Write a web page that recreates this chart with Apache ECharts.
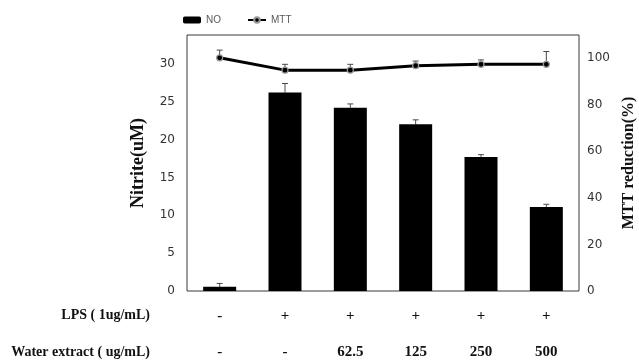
<!DOCTYPE html>
<html>
<head>
<meta charset="utf-8">
<script src="https://cdn.jsdelivr.net/npm/echarts@6/dist/echarts.min.js"></script>
<style>html,body{margin:0;padding:0;background:#fff}#c{width:639px;height:364px}</style>
</head>
<body>
<div id="c"></div>
<script>
var categories = ['g1', 'g2', 'g3', 'g4', 'g5', 'g6'];
var lpsLabels = ['-', '+', '+', '+', '+', '+'];
var extractLabels = ['-', '-', '62.5', '125', '250', '500'];
var noValues = [0.55, 26.2, 24.2, 22.0, 17.7, 11.1];
var noErrors = [0.45, 1.2, 0.5, 0.6, 0.3, 0.35];
var mttValues = [100.2, 94.9, 94.9, 96.8, 97.4, 97.4];
var mttErrors = [3.3, 2.5, 2.5, 2.0, 1.9, 5.5];

function errorSeries(name, vals, errs, axisIdx) {
  return {
    type: 'custom',
    name: name,
    yAxisIndex: axisIdx,
    z: 1,
    data: vals.map(function (v, i) { return [i, v, v + errs[i]]; }),
    renderItem: function (params, api) {
      var lo = api.coord([api.value(0), api.value(1)]);
      var hi = api.coord([api.value(0), api.value(2)]);
      var style = { stroke: '#4a4a4a', lineWidth: 1 };
      return {
        type: 'group',
        children: [
          { type: 'line', shape: { x1: lo[0], y1: lo[1], x2: hi[0], y2: hi[1] }, style: style },
          { type: 'line', shape: { x1: hi[0] - 3, y1: hi[1], x2: hi[0] + 3, y2: hi[1] }, style: style }
        ]
      };
    }
  };
}

var chart = echarts.init(document.getElementById('c'));
chart.setOption({
  animation: false,
  backgroundColor: '#fff',
  legend: {
    data: ['NO', 'MTT'],
    left: 178,
    top: 10,
    itemGap: 26,
    itemWidth: 18,
    itemHeight: 7,
    textStyle: { color: '#595959', fontSize: 10, fontFamily: 'Liberation Sans' }
  },
  grid: { left: 187, right: 60, top: 35, bottom: 73, show: true, borderColor: '#3a3a3a', borderWidth: 1, containLabel: false, outerBoundsMode: 'none' },
  xAxis: {
    type: 'category',
    data: categories,
    axisLine: { show: false },
    axisTick: { show: false },
    axisLabel: {
      margin: 7,
      interval: 0,
      formatter: function (v, i) { return lpsLabels[i] + '\n' + extractLabels[i]; },
      lineHeight: 36,
      fontSize: 15,
      fontWeight: 'bold',
      color: '#111',
      fontFamily: 'Liberation Serif'
    }
  },
  yAxis: [
    {
      type: 'value', min: 0, max: 33.8, interval: 5,
      name: 'Nitrite(uM)', nameLocation: 'middle', nameGap: 40, nameRotate: 90,
      nameTextStyle: { fontSize: 18, fontWeight: 'bold', color: '#111', fontFamily: 'Liberation Serif' },
      axisLine: { show: false }, axisTick: { show: false }, splitLine: { show: false },
      axisLabel: { showMaxLabel: false, margin: 12, fontSize: 12, color: '#333', fontFamily: 'DejaVu Sans' }
    },
    {
      type: 'value', min: 0, max: 110, interval: 20,
      name: 'MTT reduction(%)', nameLocation: 'middle', nameGap: 42, nameRotate: 90,
      nameTextStyle: { fontSize: 16, fontWeight: 'bold', color: '#111', fontFamily: 'Liberation Serif' },
      axisLine: { show: false }, axisTick: { show: false }, splitLine: { show: false },
      axisLabel: { showMaxLabel: false, margin: 8, fontSize: 12, color: '#333', fontFamily: 'DejaVu Sans' }
    }
  ],
  series: [
    {
      name: 'NO', type: 'bar', yAxisIndex: 0, data: noValues, barWidth: 33,
      itemStyle: { color: '#000' }, z: 2
    },
    errorSeries('NOerr', noValues, noErrors, 0),
    {
      name: 'MTT', type: 'line', yAxisIndex: 1, data: mttValues,
      symbol: 'circle', symbolSize: 6,
      lineStyle: { color: '#000', width: 3 },
      itemStyle: { color: '#000', borderColor: '#9a9a9a', borderWidth: 1.2 },
      z: 3
    },
    errorSeries('MTTerr', mttValues, mttErrors, 1)
  ],
  graphic: [
    { type: 'text', right: 639 - 150, top: 308, style: { text: 'LPS ( 1ug/mL)', fontSize: 14, fontWeight: 'bold', fill: '#111', fontFamily: 'Liberation Serif' } },
    { type: 'text', right: 639 - 150, top: 345, style: { text: 'Water extract ( ug/mL)', fontSize: 14, fontWeight: 'bold', fill: '#111', fontFamily: 'Liberation Serif' } }
  ]
});
</script>
</body>
</html>
